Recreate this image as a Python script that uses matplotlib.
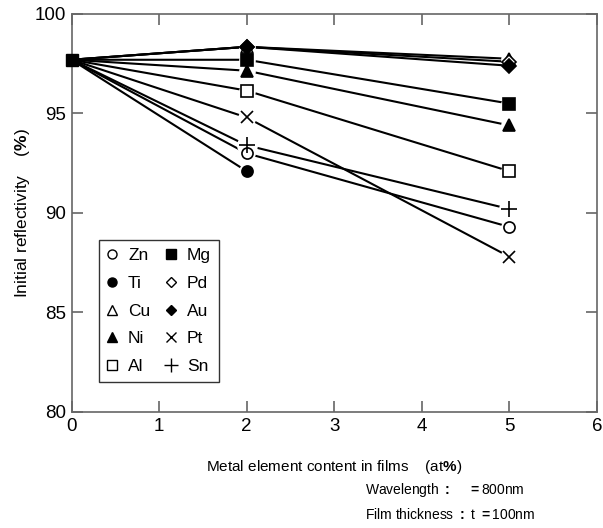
#!/usr/bin/env python3

import matplotlib
matplotlib.use("Agg")
import matplotlib.pyplot as plt
from matplotlib import rcParams
from matplotlib.lines import Line2D

rcParams.update({'font.family': 'Liberation Sans', 'font.size': 12})
rcParams['mathtext.fontset'] = 'custom'
rcParams['mathtext.rm'] = 'Liberation Sans'
rcParams['mathtext.bf'] = 'Liberation Sans:bold'

# metal content (at%) and initial reflectivity (%)
content = [0, 2, 5]
zn = [97.7, 93.0, 89.3]
ti = [97.7, 92.1, None]
cu = [97.7, 98.35, 97.75]
ni = [97.7, 97.15, 94.4]
al = [97.7, 96.15, 92.1]
mg = [97.7, 97.7, 95.5]
pd_ = [97.7, 98.35, 97.6]
au = [97.7, 98.35, 97.4]
pt = [97.7, 94.8, 87.8]
sn = [97.7, 93.4, 90.2]

names = ["Zn", "Ti", "Cu", "Ni", "Al", "Mg", "Pd", "Au", "Pt", "Sn"]
series = [zn, ti, cu, ni, al, mg, pd_, au, pt, sn]
markers = ["o", "o", "^", "^", "s", "s", "D", "D", "x", "+"]
filled = [False, True, False, True, False, True, False, True, None, None]
sizes = [8, 8, 8, 8, 8, 8, 7, 7, 9, 11]

fig = plt.figure(figsize=(6.03, 5.28), dpi=100)
ax = fig.add_axes([0.1186, 0.2197, 0.8714, 0.7538])

handles = []
for name, ys, mk, fl, ms in zip(names, series, markers, filled, sizes):
    xs = [x for x, y in zip(content, ys) if y is not None]
    yv = [y for y in ys if y is not None]
    ax.plot(xs, yv, color="black", lw=1.5, zorder=2)
    if fl is None:
        face = "none"
    else:
        face = "black" if fl else "white"
    # white halo so lines stop short of the symbols
    ax.plot(xs[1:], yv[1:], ls="none", marker="o", ms=ms + 4,
            mfc="white", mec="none", zorder=3)
    ax.plot(xs[1:], yv[1:], ls="none", marker=mk, ms=ms, mfc=face,
            mec="black", mew=1.2, zorder=5 if fl else 4)
    handles.append(Line2D([], [], ls="none", marker=mk, ms=ms - 1.5,
                          mfc=face, mec="black", mew=1.0, label=name))

# common starting point (pure film)
ax.plot([0], [97.7], ls="none", marker="s", ms=8, color="black", zorder=6,
        clip_on=False)

ax.set_xlim(0, 6)
ax.set_ylim(80, 100)
ax.set_xticks(range(0, 7))
ax.set_yticks([80, 85, 90, 95, 100])
for s in ax.spines.values():
    s.set_color("#666666")
    s.set_linewidth(1.2)
ax.tick_params(direction="in", length=8, width=1.2, color="#666666",
               top=True, right=True, labelsize=13.5, pad=4)

ax.set_ylabel(r"Initial reflectivity    ($\mathbf{\%}$)", fontsize=12.5,
              labelpad=2)
ax.set_xlabel(r"Metal element content in films    (at$\mathbf{\%}$)",
              fontsize=11, labelpad=17)

leg = ax.legend(handles=handles, ncol=2, loc="lower left",
                bbox_to_anchor=(0.053, 0.076), borderaxespad=0,
                fontsize=12.5, frameon=True, fancybox=False,
                handlelength=0.6, handletextpad=0.6, columnspacing=0.9,
                labelspacing=0.72, borderpad=0.45)
leg.get_frame().set_edgecolor("black")
leg.get_frame().set_linewidth(1.0)

fig.text(0.605, 0.072, r"Wavelength $\mathbf{:}$    $\mathbf{=}$800nm",
         fontsize=10, va="center")
fig.text(0.605, 0.025, r"Film thickness $\mathbf{:}$ t $\mathbf{=}$100nm",
         fontsize=10, va="center")

fig.savefig("out.png", dpi=100)
